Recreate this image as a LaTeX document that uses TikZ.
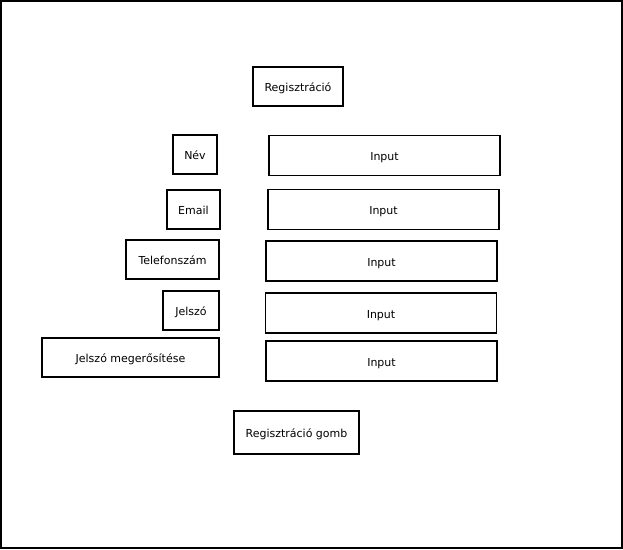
\documentclass[tikz,border=0pt]{standalone}
\usepackage{fontspec}
\setmainfont{DejaVu Sans}
\usetikzlibrary{positioning}
\tikzset{
  % urlap mezok
  mezo/.style={draw,line width=1.6pt,inner sep=0pt,minimum height=39pt,
               text height=12pt,text depth=2pt},
  beviteli/.style={mezo,minimum width=231pt,minimum height=40pt},
}
\begin{document}
\begin{tikzpicture}[x=1pt,y=-1pt,font=\fontsize{11}{13}\selectfont]
  \useasboundingbox (0,0) rectangle (623,549);
  \draw[line width=2pt] (1,1) rectangle (622,548);
  \node[mezo,minimum width=90pt] (cim) at (298,86.5) {Regisztráció};
  \node[mezo,minimum width=44pt] (nev) at (195,154.5) {Név};
  \node[beviteli] (in1) at (384.5,155.5) {Input};
  \node[mezo,minimum width=53pt] (email) at (193.5,209.5) {Email};
  \node[beviteli] (in2) at (383.5,209.5) {Input};
  \node[mezo,minimum width=93pt] (tel) at (172.5,259.5) {Telefonszám};
  \node[beviteli] (in3) at (381.5,261) {Input};
  \node[mezo,minimum width=56pt] (jelszo) at (191,310.5) {Jelszó};
  \node[beviteli] (in4) at (381,313) {Input};
  \node[mezo,minimum width=177pt] (megerosit) at (130.5,357.5) {Jelszó megerősítése};
  \node[beviteli] (in5) at (381.5,361) {Input};
  \node[mezo,minimum width=125pt,minimum height=43pt] (gomb) at (296.5,432.5) {Regisztráció gomb};
\end{tikzpicture}
\end{document}
